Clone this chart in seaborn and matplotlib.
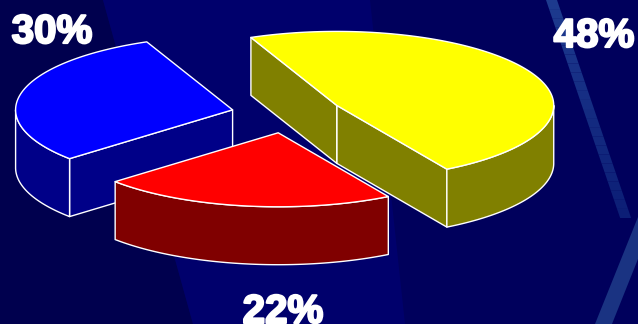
import numpy as np
import matplotlib
matplotlib.use("Agg")
import matplotlib.pyplot as plt
from matplotlib.patches import Polygon
import matplotlib.patheffects as pe
import seaborn as sns

# Shares of the three segments (percent), in drawing order counter-clockwise
shares = [30, 22, 48]
labels = [f"{v}%" for v in shares]
top_colors = ["#0000ff", "#ff0000", "#ffff00"]
side_colors = ["#000088", "#800000", "#808000"]

# 3D pie geometry (in units of the pie radius)
start_angle = 113.3
tilt = 0.341
depth = 0.267
explode = 0.257

sns.set_theme(style="white")
plt.rcParams["font.family"] = ["Liberation Sans", "DejaVu Sans"]

W, H = 638, 324
fig = plt.figure(figsize=(W / 100, H / 100), dpi=100, facecolor="#00005c")
ax = fig.add_axes([0, 0, 1, 1])
ax.set_xlim(-287 / 217, (W - 287) / 217)
ax.set_ylim((114 - H) / 217, 114 / 217)
ax.set_axis_off()


def px(points):
    return [(x / W, 1 - y / H) for x, y in points]


# backdrop panels
ax.add_patch(Polygon(px([(0, 0), (103, 0), (193, H), (0, H)]),
                     closed=True, transform=ax.transAxes, color="#00004e", lw=0, zorder=0))
ax.add_patch(Polygon(px([(103, 0), (370, 0), (405, H), (193, H)]),
                     closed=True, transform=ax.transAxes, color="#00006c", lw=0, zorder=0))

# thin upper streak, fading as it goes down
c_top = np.array(matplotlib.colors.to_rgb("#1d3a8e"))
c_bot = np.array(matplotlib.colors.to_rgb("#0c1e76"))
nseg = 24
for j in range(nseg):
    y0, y1 = 218 * j / nseg, 218 * (j + 1) / nseg
    x0, x1 = 546 + 0.34 * y0, 546 + 0.34 * y1
    col = c_top + (c_bot - c_top) * (j / (nseg - 1))
    ax.add_patch(Polygon(px([(x0, y0), (x0 + 11, y0), (x1 + 11, y1), (x1, y1)]),
                         closed=True, transform=ax.transAxes, color=col, lw=0, zorder=0.5))
# wider lower streak
ax.add_patch(Polygon(px([(595, H), (612, H), (W, H - 65), (W, 217)]),
                     closed=True, transform=ax.transAxes, color="#1a3382", lw=0, zorder=0.5))

fracs = np.array(shares) / sum(shares)
bounds = start_angle + 360 * np.concatenate([[0], np.cumsum(fracs)])


def rim(cx, cy, a, b, drop=0.0, n=140):
    th = np.radians(np.linspace(a, b, n))
    return np.column_stack([cx + np.cos(th), cy + tilt * np.sin(th) - drop])


slices = []
for i in range(len(shares)):
    t1, t2 = bounds[i], bounds[i + 1]
    mid = np.radians((t1 + t2) / 2)
    cx, cy = explode * np.cos(mid), explode * tilt * np.sin(mid)
    slices.append((np.sin(mid), i, t1, t2, cx, cy))
slices.sort(key=lambda s: -s[0])

edge = dict(edgecolor="white", linewidth=1.0, joinstyle="round")
z = 2
for _, i, t1, t2, cx, cy in slices:
    walls = []
    # radial walls that face the viewer
    for t, visible in ((t1, np.cos(np.radians(t1)) > 0), (t2, np.cos(np.radians(t2)) < 0)):
        if visible:
            p = rim(cx, cy, t, t, n=1)[0]
            walls.append([(cx, cy), (p[0], p[1]), (p[0], p[1] - depth), (cx, cy - depth)])
    # curved outer wall on the front half
    for n in range(-1, 3):
        a, b = max(t1, 180 + 360 * n), min(t2, 360 + 360 * n)
        if b > a:
            top = rim(cx, cy, a, b)
            bot = rim(cx, cy, a, b, drop=depth)[::-1]
            walls.append(np.vstack([top, bot]))
    for w in walls:
        ax.add_patch(Polygon(w, closed=True, facecolor=side_colors[i], zorder=z, **edge))
        z += 1
    face = np.vstack([[(cx, cy)], rim(cx, cy, t1, t2)])
    ax.add_patch(Polygon(face, closed=True, facecolor=top_colors[i], zorder=z, **edge))
    z += 1

# percentage labels
label_pos = [(52, 43), (283, 323), (594, 47)]
for lab, (x, y) in zip(labels, label_pos):
    ax.text(x / W, 1 - y / H, lab, transform=ax.transAxes, ha="center", va="baseline",
            color="white", fontsize=29, fontweight="bold", zorder=50,
            path_effects=[pe.withStroke(linewidth=1.6, foreground="white")])

fig.savefig("out.png", dpi=100, facecolor=fig.get_facecolor())
